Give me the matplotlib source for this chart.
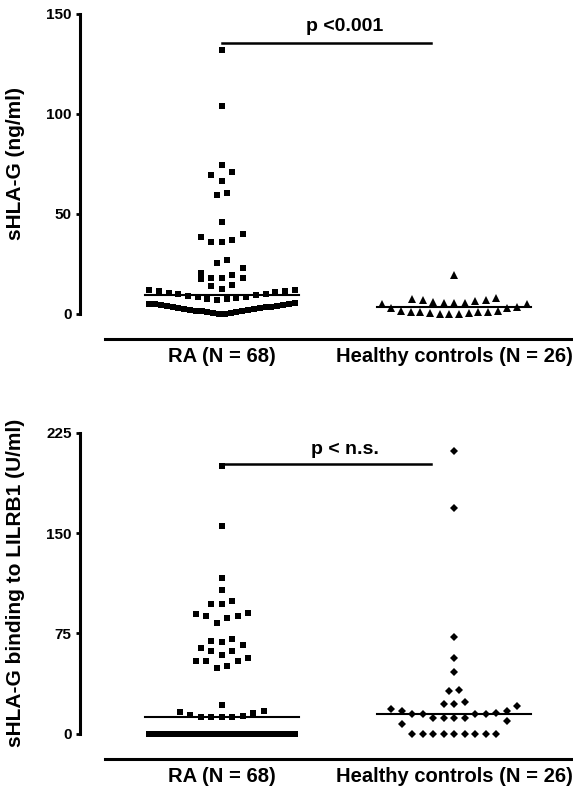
import numpy as np
import matplotlib
matplotlib.use("Agg")
from matplotlib import pyplot as plt

plt.rcParams['font.family'] = ['Liberation Sans', 'DejaVu Sans']
plt.rcParams['font.weight'] = 'bold'

groups = ['RA (N = 68)', 'Healthy controls (N = 26)']

# sHLA-G (ng/ml)
ra_shlag = [132, 104, 74.5, 71, 69.5, 66.5, 60.7, 59.3, 46,
            39.8, 38.3, 37, 36.2, 36, 27, 25.7, 23, 20.7, 19.5,
            18.2, 18.2, 17.8, 17.5, 14.5, 14, 12.7,
            12.2, 12.0, 11.6, 11.3, 11.0, 10.6, 10.2, 9.8, 9.4, 9.0,
            8.7, 8.3, 8.0, 7.6, 7.3, 7.0,
            5.4, 5.2, 5.0, 4.8, 4.6, 4.4, 4.2, 4.0, 3.7, 3.5, 3.3, 3.1, 2.8,
            2.6, 2.4, 2.2, 1.9, 1.7, 1.5, 1.3, 1.0, 0.8, 0.6, 0.4, 0.2, 0.0]
hc_shlag = [19.5, 7.8, 7.3, 7.0, 7.0, 6.3, 6.0, 5.7, 5.7, 5.7,
            5.0, 5.0, 3.7, 3.2, 3.2, 1.7, 1.7, 1.2, 1.2, 0.8, 0.8,
            0.3, 0.3, 0.0, 0.0, 0.0]

# sHLA-G binding to LILRB1 (U/ml)
ra_lilrb1 = [200, 155, 116.6, 107.6, 99.1, 96.6, 96.6, 90.4, 89.2, 87.9,
             87.7, 86.7, 82.7, 70.5, 69.2, 68.2, 66.5, 64.3, 61.8, 61.8,
             59.0, 56.8, 54.3, 54.3, 54.3, 50.3, 49.1, 21.7,
             16.7, 16.1, 15.4, 13.7, 13.2, 12.4, 12.4, 12.0, 12.0,
             0, 0, 0, 0, 0, 0, 0, 0, 0, 0, 0, 0, 0, 0, 0, 0,
             0, 0, 0, 0, 0, 0, 0, 0, 0, 0, 0, 0, 0, 0, 0]
hc_lilrb1 = [211.2, 168.6, 72.2, 56.3, 45.8, 32.9, 31.9, 23.9, 21.9, 21.9,
             20.4, 18.2, 16.9, 16.9, 15.7, 14.4, 14.4, 14.4, 14.4,
             11.4, 11.4, 11.4, 11.4, 9.7, 7.0,
             0, 0, 0, 0, 0, 0, 0, 0, 0]

PX = 232.0  # pixels per category unit


def dot_layout(values, center, h, step_px=10.5, max_px=145):
    # prism-like scatter: rows of close values, lowest in the middle
    vals = sorted(values)
    xs, ys = [], []
    i = 0
    while i < len(vals):
        start = vals[i]
        row = []
        while i < len(vals) and vals[i] < start + h:
            row.append(vals[i])
            i += 1
        n = len(row)
        step = min(step_px, max_px / (n - 1)) if n > 1 else 0
        slots = [(k - (n - 1) / 2) * step for k in range(n)]
        slots.sort(key=lambda s: (abs(s), s))
        for v, s in zip(row, slots):
            xs.append(center + s / PX)
            ys.append(v)
    return xs, ys


def panel(ax, ra, hc, marker2, ms2, ymax, yticks, ylabel, ptext, pline_y, ptext_y, h_ra, h_hc):
    x, y = dot_layout(ra, 0, h_ra)
    ax.plot(x, y, 's', color='black', ms=5, mew=0, clip_on=False)
    x, y = dot_layout(hc, 1, h_hc)
    ax.plot(x, y, marker2, color='black', ms=ms2, mew=0, clip_on=False)
    for c, d in zip([0, 1], [ra, hc]):
        m = np.median(d)
        ax.plot([c - 0.332, c + 0.332], [m, m], color='black', lw=1.5, clip_on=False)

    ax.plot([0, 0.9], [pline_y, pline_y], color='black', lw=1.8, clip_on=False)
    ax.text(0.53, ptext_y, ptext, ha='center', va='center', fontsize=14, fontweight='bold')

    ax.set_xlim(-142 / PX, 351 / PX)
    ax.set_ylim(0, ymax)
    ax.set_yticks(yticks)
    ax.set_xticks([0, 1])
    ax.set_xticklabels(groups)
    ax.tick_params(axis='x', length=0, pad=6, labelsize=14.5)
    ax.tick_params(axis='y', length=3, width=2, labelsize=11, pad=3)
    ax.spines['top'].set_visible(False)
    ax.spines['right'].set_visible(False)
    ax.spines['left'].set_linewidth(2.2)
    ax.spines['bottom'].set_linewidth(2.2)
    ax.spines['bottom'].set_position(('outward', 18))
    ax.spines['bottom'].set_bounds(-117 / PX, 351 / PX)
    ax.set_ylabel(ylabel, fontsize=15, fontweight='bold')
    ax.yaxis.set_label_coords(-0.112, 0.5)


fig = plt.figure(figsize=(5.73, 7.94), dpi=100)
ax1 = fig.add_axes([80 / 573, 1 - 314 / 794, 493 / 573, 300 / 794])
ax2 = fig.add_axes([80 / 573, 1 - 733.5 / 794, 493 / 573, 300.5 / 794])

panel(ax1, ra_shlag, hc_shlag, '^', 5.4, 150, [0, 50, 100, 150],
      'sHLA-G (ng/ml)', 'p <0.001', 135.5, 143.5, 5.5, 5.5)
panel(ax2, ra_lilrb1, hc_lilrb1, 'D', 3.6, 225, [0, 75, 150, 225],
      'sHLA-G binding to LILRB1 (U/ml)', 'p < n.s.', 202, 213, 8, 10)

fig.savefig('out.png', dpi=100)
